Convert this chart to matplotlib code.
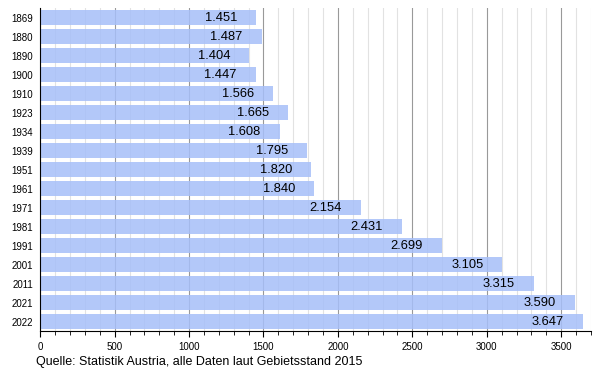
import matplotlib.pyplot as plt
from matplotlib.ticker import MultipleLocator

plt.rcParams['font.family'] = ['Liberation Sans', 'DejaVu Sans']

years = ['1869', '1880', '1890', '1900', '1910', '1923', '1934', '1939', '1951',
         '1961', '1971', '1981', '1991', '2001', '2011', '2021', '2022']
values = [1451, 1487, 1404, 1447, 1566, 1665, 1608, 1795, 1820,
          1840, 2154, 2431, 2699, 3105, 3315, 3590, 3647]
source = 'Quelle: Statistik Austria, alle Daten laut Gebietsstand 2015'

fig = plt.figure(figsize=(6, 3.7), dpi=100)
ax = fig.add_axes([0.067, 0.105, 0.918, 0.873])

pos = range(len(years))
# slightly transparent bars so the grid shows faintly through them
ax.barh(pos, values, height=0.78, color='#a6bff9', alpha=0.85, zorder=3)

ax.xaxis.set_major_locator(MultipleLocator(500))
ax.xaxis.set_minor_locator(MultipleLocator(100))
ax.grid(axis='x', which='major', color='#999999', linewidth=0.8, zorder=1)
ax.grid(axis='x', which='minor', color='#e2e2e2', linewidth=0.8, zorder=1)
ax.set_axisbelow(True)

for i, v in enumerate(values):
    lab = f'{v:,}'.replace(',', '.')
    ax.annotate(lab, (v, i), xytext=(-19, 0), textcoords='offset pixels',
                ha='right', va='center', fontsize=9.3, color='black', zorder=4)

ax.set_xlim(0, 3700)
ax.set_ylim(16.5, -0.5)
ax.set_yticks(list(pos))
ax.set_yticklabels(years, fontsize=7)
ax.tick_params(axis='y', length=0, pad=5)
ax.tick_params(axis='x', which='major', labelsize=7, length=4, direction='out', color='black')
ax.tick_params(axis='x', which='minor', length=3, direction='out', color='black')

for s in ['top', 'right']:
    ax.spines[s].set_visible(False)
ax.spines['left'].set_color('black')
ax.spines['bottom'].set_color('black')
ax.spines['left'].set_zorder(5)
ax.spines['bottom'].set_zorder(5)

fig.text(0.06, 0.021, source, fontsize=9, ha='left', va='center')

fig.savefig('out.png', dpi=100)
